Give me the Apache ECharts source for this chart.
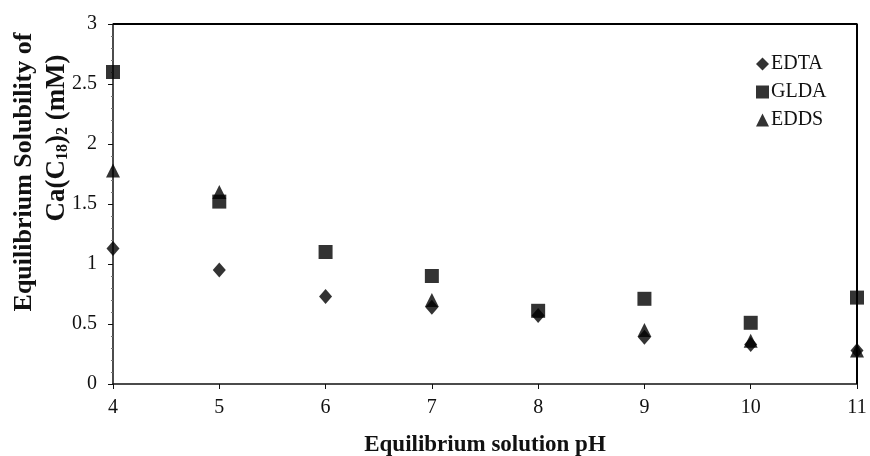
<!DOCTYPE html>
<html>
<head>
<meta charset="utf-8">
<script src="https://cdn.jsdelivr.net/npm/echarts@6/dist/echarts.min.js"></script>
<style>
html,body{margin:0;padding:0;background:#fff;}
#c{width:870px;height:456px;}
</style>
</head>
<body>
<div id="c"></div>
<script>
const pH = [4, 5, 6, 7, 8, 9, 10, 11];
const EDTA = [1.13, 0.95, 0.73, 0.64, 0.57, 0.39, 0.33, 0.28];
const GLDA = [2.6, 1.52, 1.1, 0.9, 0.61, 0.71, 0.51, 0.72];
const EDDS = [1.78, 1.6, null, 0.7, null, 0.45, 0.36, 0.28];
const seriesNames = ['EDTA', 'GLDA', 'EDDS'];
const xTitle = 'Equilibrium solution pH';
const yTitle1 = 'Equilibrium Solubility of';

const FONT = '"Liberation Serif", "Times New Roman", serif';
const INK = '#111111';
const MARK = '#000000';

function pairs(vals) {
  return pH.map((x, i) => [x, vals[i]]).filter(p => p[1] !== null);
}

const chart = echarts.init(document.getElementById('c'), null, {renderer: 'canvas'});
chart.setOption({
  backgroundColor: '#ffffff',
  animation: false,
  grid: {left: 113, right: 13, top: 24, bottom: 72, outerBoundsMode: 'none', containLabel: false},
  legend: {
    orient: 'vertical', left: 751, top: 49, itemGap: 8,
    itemWidth: 13, itemHeight: 13,
    textStyle: {fontFamily: FONT, fontSize: 20, color: INK, padding: [0, 0, 0, -3]},
    data: seriesNames
  },
  xAxis: {
    type: 'value', min: 4, max: 11, interval: 1,
    axisLine: {show: true, onZero: false, lineStyle: {color: INK, width: 1.5}},
    axisTick: {show: true, length: 5, lineStyle: {color: INK, width: 1}},
    splitLine: {show: false},
    axisLabel: {fontFamily: FONT, fontSize: 20, color: INK, margin: 14},
    name: xTitle, nameLocation: 'middle', nameGap: 50,
    nameTextStyle: {fontFamily: FONT, fontSize: 23, fontWeight: 'bold', color: INK}
  },
  yAxis: {
    type: 'value', min: 0, max: 3, interval: 0.5,
    axisLine: {show: true, onZero: false, lineStyle: {color: INK, width: 1.5}},
    axisTick: {show: true, length: 5, lineStyle: {color: INK, width: 1}},
    minorTick: {show: true, splitNumber: 5, length: 2, lineStyle: {color: '#777', width: 1}},
    splitLine: {show: false},
    axisLabel: {fontFamily: FONT, fontSize: 20, color: INK, margin: 16}
  },
  series: [
    {name: 'EDTA', type: 'scatter', symbol: 'diamond', symbolSize: [13, 15], itemStyle: {color: MARK}, data: pairs(EDTA), z: 3},
    {name: 'GLDA', type: 'scatter', symbol: 'rect', symbolSize: 14, itemStyle: {color: MARK}, data: pairs(GLDA), z: 3},
    {name: 'EDDS', type: 'scatter', symbol: 'triangle', symbolSize: 14, itemStyle: {color: MARK}, data: pairs(EDDS), z: 3},
    {
      name: 'frame', type: 'line', silent: true, symbol: 'none', legendHoverLink: false, clip: false,
      lineStyle: {color: '#000000', width: 2, opacity: 1}, z: 10,
      data: [[4, 3], [11, 3], [11, 0]]
    }
  ]
});

chart.setOption({
  graphic: [
    {
      type: 'text', x: 24, y: 172, rotation: Math.PI / 2,
      style: {text: yTitle1, fontFamily: FONT, fontSize: 26, fontWeight: 'bold', fill: INK, align: 'center', verticalAlign: 'middle'}
    },
    {
      type: 'text', x: 57, y: 138, rotation: Math.PI / 2,
      style: {
        text: '{n|Ca(C}{s|18}{n|)}{s|2}{n| (mM)}',
        align: 'center', verticalAlign: 'middle', fill: INK,
        rich: {
          n: {fontFamily: FONT, fontSize: 27, fontWeight: 'bold', fill: INK, verticalAlign: 'bottom', lineHeight: 28},
          s: {fontFamily: FONT, fontSize: 16, fontWeight: 'bold', fill: INK, verticalAlign: 'bottom', lineHeight: 12}
        }
      }
    }
  ]
});
</script>
</body>
</html>
